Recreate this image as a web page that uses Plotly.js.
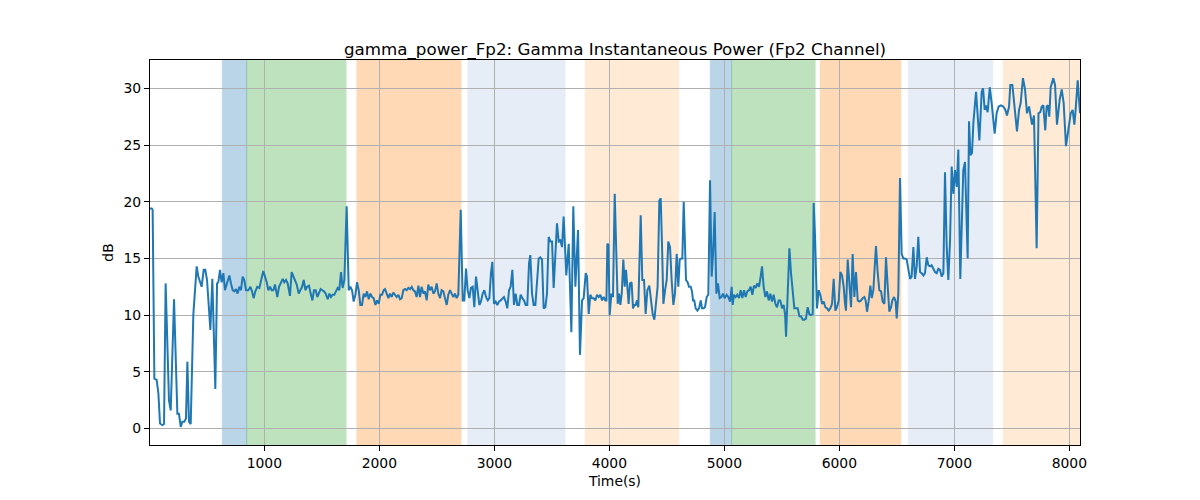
<!DOCTYPE html>
<html>
<head>
<meta charset="utf-8">
<script src="https://cdn.plot.ly/plotly-3.0.1.min.js"></script>
<style>html,body{margin:0;padding:0;background:#fff;}#chart{width:1200px;height:500px;}</style>
</head>
<body>
<div id="chart"></div>
<script>
// Time (s) and gamma power (dB)
const timeSec = [
  6,21,29,44,64,79,93,113,128,142,171,186,215,244,258,273,287,305,319,331,345,360,383,397,412,426,441,455,473,487,502,516,531,548,574,589,600,615,629,644,658,678,696,710,725,739,754,768,783,797,812,826,841,861,879,893,907,922,939,957,977,991,
  1021,1035,1050,1064,1079,1093,1113,1128,1142,1160,1174,1189,1203,1223,1238,1253,1267,1282,1299,1313,1328,1343,1357,1371,1389,1403,1418,1432,1447,1461,1476,1490,1505,1519,1534,1551,1566,1580,1594,1609,1623,1638,1652,1667,1681,1696,1716,1734,1748,1763,1777,1792,1806,1821,1835,1850,1864,1879,1893,1908,1922,1937,1951,1966,1980,1995,2009,2024,2038,2050,
  2064,2079,2093,2108,2122,2137,2151,2166,2180,2195,2209,2224,2238,2253,2267,2282,2296,2310,2325,2340,2354,2368,2383,2397,2412,2426,2441,2455,2470,2484,2499,2513,2528,2542,2557,2571,2586,2600,2615,2629,2644,2658,2673,2687,2708,2725,2739,2754,2768,2783,2797,2812,2826,2841,2855,2870,2884,2899,2913,2928,2943,2957,2971,2983,
  2997,3012,3026,3041,3055,3070,3084,3099,3113,3128,3142,3157,3171,3186,3200,3215,3229,3244,3258,3273,3287,3302,3313,3328,3342,3357,3371,3386,3400,3415,3429,3444,3458,3473,3487,3502,3516,3531,3545,3560,3574,3589,3603,3626,3647,3670,3687,3705,3728,3745,3763,3777,3795,3806,3821,3835,3850,3864,3879,3893,3908,3922,3937,3951,3966,3975,3983,3992,4003,4018,4032,4047,
  4061,4073,4085,4096,4108,4122,4134,4145,4157,4168,4180,4194,4206,4218,4229,4241,4252,4273,4287,4302,4316,4331,4348,4363,4377,4392,4406,4420,4435,4447,4458,4470,4485,4499,4513,4528,4542,4557,4571,4586,4600,4612,4626,4635,4647,4658,4667,4681,4693,4708,4719,4728,4739,4751,4766,4780,4795,4806,4821,4832,4847,4861,4876,4890,4902,4916,4931,4945,4960,4975,4989,5003,
  5020,5035,5050,5064,5073,5084,5099,5113,5128,5142,5157,5171,5186,5200,5215,5229,5244,5258,5273,5287,5302,5316,5328,5342,5357,5371,5386,5400,5415,5429,5444,5458,5473,5487,5502,5516,5528,5537,5551,5566,5580,5595,5609,5624,5638,5653,5667,5682,5696,5710,5725,5739,5754,5769,5777,5789,5806,5821,5835,5850,5864,5879,5893,5908,5922,5937,5951,5966,5980,5995,6009,6024,6038,6050,
  6058,6073,6087,6102,6116,6131,6145,6160,6174,6189,6203,6218,6229,6241,6256,6270,6282,6296,6308,6319,6334,6348,6363,6377,6392,6406,6421,6435,6450,6461,6476,6490,6499,6513,6528,6542,6557,6571,6586,6600,6615,6629,6644,6658,6673,6687,6702,6716,6731,6745,6760,6774,6789,6803,6818,6832,6847,6861,6876,6890,6905,6919,6934,6948,6963,6977,6992,7006,7021,7035,
  7052,7078,7093,7116,7128,7140,7154,7166,7189,7218,7238,7250,7264,7276,7290,7308,7325,7351,7368,7386,7406,7426,7444,7458,7476,7487,7505,7522,7545,7563,7577,7597,7615,7632,7650,7664,7676,7693,7716,7732,7748,7760,7774,7791,7803,7815,7826,7838,7861,7876,7893,7916,7934,7951,7971,7991,8012,8029,8044,8055,8073,8093
];
const gammaDb = [
  19.4,19.4,19.3,4.4,4.3,3.1,0.44,0.3,0.4,12.8,2.5,1.6,11.4,1.3,1.3,0.15,0.6,0.6,0.9,5.9,0.6,0.4,10.1,12.2,14.3,13.4,12.9,12.5,14.0,14.0,13.1,10.7,8.7,13.2,3.5,12.8,12.9,14.0,12.9,13.7,12.2,12.9,13.5,12.8,12.2,12.1,12.3,11.9,12.5,12.2,13.4,13.1,12.2,12.2,12.5,12.1,11.5,12.1,12.5,12.4,13.4,13.9,
  12.9,12.2,12.5,12.2,12.2,12.7,11.6,12.5,12.8,13.2,12.9,13.1,12.8,11.7,13.8,13.4,13.1,12.7,11.9,12.2,12.5,13.1,12.2,12.5,12.6,11.9,11.3,12.2,12.2,11.6,12.0,12.3,12.2,12.1,11.9,11.4,11.9,11.6,11.8,11.8,12.1,12.4,12.2,13.8,12.4,13.1,19.6,12.2,12.5,12.2,11.2,11.8,12.9,12.2,10.9,10.9,11.9,11.6,12.1,11.4,11.9,11.6,11.5,10.9,11.3,11.0,11.8,11.8,12.2,12.3,
  11.9,11.5,11.9,11.6,12.0,11.8,11.6,11.8,11.4,11.5,12.2,12.3,12.2,12.4,12.3,12.5,12.2,12.1,11.6,12.6,11.6,12.5,11.9,12.1,11.3,12.7,12.2,12.5,11.9,12.1,12.8,11.9,11.5,12.2,12.1,11.5,10.9,11.8,12.2,11.9,11.6,11.9,11.5,11.8,19.3,11.3,11.3,14.1,12.2,11.5,12.4,12.5,10.7,13.4,12.2,10.9,11.2,11.9,12.2,11.6,11.3,11.5,13.7,14.7,
  11.0,11.2,10.9,11.2,11.3,11.5,11.6,11.2,10.6,12.2,12.5,14.0,10.9,11.9,10.9,10.9,11.8,11.5,11.3,10.9,10.9,14.6,15.3,11.9,10.9,10.9,13.4,15.0,15.1,14.9,10.6,10.7,11.9,16.9,16.5,16.5,12.4,16.0,18.1,16.5,16.6,16.0,18.7,13.5,16.3,8.5,19.6,12.5,17.5,6.5,11.3,11.5,13.7,13.4,10.1,11.8,11.5,11.5,11.3,11.8,11.6,11.8,11.3,11.6,11.3,11.3,16.3,16.2,10.0,11.9,11.6,20.7,
  14.9,11.0,11.9,10.9,11.9,14.9,12.5,14.0,12.5,11.0,12.8,12.9,10.6,10.9,10.9,11.3,10.7,18.8,13.1,13.1,10.1,12.2,12.6,11.3,10.1,9.6,11.0,12.5,20.1,20.3,16.3,11.0,12.2,13.1,16.5,16.0,13.1,10.9,11.9,15.4,12.5,14.9,15.0,15.0,20.0,16.6,13.1,12.9,12.5,12.5,12.1,11.3,11.3,10.6,10.4,10.6,11.3,10.6,10.6,10.7,11.6,11.8,21.9,13.4,15.4,19.1,11.9,12.8,11.5,11.6,11.9,11.5,
  11.8,11.6,11.2,12.5,10.9,11.8,11.6,11.8,11.5,12.2,11.5,12.2,11.6,12.1,12.2,12.5,11.8,12.6,12.4,12.8,12.5,13.4,14.3,12.5,11.6,12.1,11.3,11.9,11.2,11.8,11.0,10.7,11.3,11.3,10.6,10.9,10.1,8.1,12.2,15.9,13.7,11.9,10.6,10.6,10.6,9.9,9.9,9.6,9.6,9.7,10.7,10.1,10.0,10.1,19.9,16.9,10.6,12.2,11.8,11.0,11.2,10.7,10.6,10.4,10.6,11.0,13.2,10.4,10.7,11.3,13.8,13.5,12.5,11.0,
  10.4,14.9,12.9,10.7,15.4,11.6,13.8,11.3,11.2,11.3,11.5,11.6,11.3,10.3,11.3,12.6,11.5,12.2,14.3,16.1,13.7,12.2,12.1,11.2,11.0,15.1,12.5,10.3,10.7,11.3,11.6,11.2,9.7,11.9,22.1,15.4,15.0,15.0,14.9,14.0,13.2,13.4,16.0,13.2,14.3,16.9,13.8,13.7,13.5,13.7,15.1,14.4,14.3,14.4,14.1,13.8,13.7,14.1,14.0,13.4,13.7,22.6,16.0,13.1,16.6,23.1,20.7,22.8,21.3,24.6,
  13.2,22.8,23.5,15.0,27.1,24.1,24.3,27.0,29.7,25.4,29.7,30.0,28.1,28.5,27.9,30.1,28.7,26.0,27.8,28.4,28.5,28.4,28.1,27.6,28.4,30.3,30.3,28.7,26.2,28.1,28.7,30.9,29.9,27.8,28.4,27.5,26.8,27.6,15.9,27.8,27.9,28.4,28.5,26.3,28.4,28.5,27.5,30.1,30.9,30.3,26.8,29.0,29.9,28.7,24.9,26.3,27.8,28.1,26.8,28.1,30.7,27.8
];

// Shaded state intervals (start, end in seconds) and their colours
const bandStart = [635, 847, 1806, 2771, 3791, 4878, 5064, 5835, 6600, 7426];
const bandEnd   = [847, 1710, 2710, 3615, 4603, 5064, 5789, 6534, 7334, 8093];
const bandColor = ['#1f77b4','#2ca02c','#ff7f0e','#aec7e8','#ffbb78','#1f77b4','#2ca02c','#ff7f0e','#aec7e8','#ffbb78'];

const yTicks = [0, 5, 10, 15, 20, 25, 30];
const xTicks = [1000, 2000, 3000, 4000, 5000, 6000, 7000, 8000];

const shapes = bandStart.map((s, i) => ({
  type: 'rect', xref: 'x', yref: 'paper', x0: s, x1: bandEnd[i], y0: 0, y1: 1,
  fillcolor: bandColor[i], opacity: 0.3, layer: 'below',
  line: {color: bandColor[i], width: 1}
}));

const font = {family: 'DejaVu Sans, sans-serif', size: 13.9, color: '#000'};

const trace = {
  x: timeSec, y: gammaDb, type: 'scatter', mode: 'lines',
  line: {color: '#1f77b4', width: 2}, hoverinfo: 'skip'
};

const layout = {
  width: 1200, height: 500,
  margin: {l: 150, r: 120, t: 60, b: 55},
  paper_bgcolor: '#fff', plot_bgcolor: 'rgba(0,0,0,0)',
  font: font,
  showlegend: false,
  title: {
    text: 'gamma_power_Fp2: Gamma Instantaneous Power (Fp2 Channel)',
    font: {family: 'DejaVu Sans, sans-serif', size: 16.7, color: '#000'},
    x: 0.5, xref: 'paper', xanchor: 'center',
    y: 1, yref: 'paper', yanchor: 'bottom', pad: {b: 5}
  },
  xaxis: {
    range: [timeSec[0], timeSec[timeSec.length - 1]],
    tickvals: xTicks, ticktext: xTicks.map(String),
    showgrid: true, gridcolor: '#b0b0b0', gridwidth: 1.1,
    zeroline: false, showline: true, mirror: true, linecolor: '#000', linewidth: 1.1,
    ticks: 'outside', ticklen: 5, tickwidth: 1.1, tickcolor: '#000',
    tickfont: font,
    title: {text: 'Time(s)', font: font, standoff: 6},
    automargin: false
  },
  yaxis: {
    range: [-1.45, 32.5],
    tickvals: yTicks, ticktext: yTicks.map(String),
    showgrid: true, gridcolor: '#b0b0b0', gridwidth: 1.1,
    zeroline: false, showline: true, mirror: true, linecolor: '#000', linewidth: 1.1,
    ticks: 'outside', ticklen: 5, tickwidth: 1.1, tickcolor: '#000',
    tickfont: font,
    title: {text: 'dB', font: font, standoff: 6},
    automargin: false
  },
  shapes: shapes
};

Plotly.newPlot('chart', [trace], layout, {staticPlot: true, displayModeBar: false});
</script>
</body>
</html>
